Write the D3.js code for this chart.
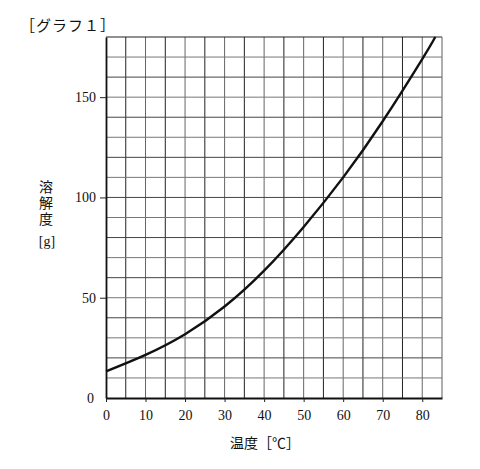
<!DOCTYPE html>
<html>
<head>
<meta charset="utf-8">
<script src="https://cdn.jsdelivr.net/npm/d3@7"></script>
<style>
  body { margin: 0; background: #fff; }
  svg { display: block; }
</style>
</head>
<body>
<div id="chart-area"></div>
<script>
// solubility curve (temperature °C, solubility g)
var temps = [0, 10, 20, 30, 40, 50, 60, 70, 80, 83.3];
var solub = [13.3, 21.5, 31.8, 45.6, 63.5, 85.3, 110, 138, 169, 180];
var xTicks = [0, 10, 20, 30, 40, 50, 60, 70, 80];
var yTicks = [0, 50, 100, 150];

var W = 480, H = 469;
var pLeft = 106, pRight = 442, pTop = 37, pBottom = 398;

var svg = d3.select("#chart-area").append("svg")
  .attr("width", W).attr("height", H);

var x = d3.scaleLinear().domain([0, 85]).range([pLeft, pRight]);
var y = d3.scaleLinear().domain([0, 180]).range([pBottom, pTop]);

var serif = "'Liberation Serif', 'DejaVu Serif', serif";
var jp = "'Noto Sans CJK JP', sans-serif";

// grid
var g = svg.append("g");
g.selectAll("line.v").data(d3.range(5, 85, 5)).enter().append("line")
  .attr("x1", d => x(d)).attr("x2", d => x(d))
  .attr("y1", pTop).attr("y2", pBottom)
  .attr("stroke", (d, i) => i % 2 ? "#666" : "#222")
  .attr("stroke-width", 1);
g.selectAll("line.h").data(d3.range(10, 180, 10)).enter().append("line")
  .attr("x1", pLeft).attr("x2", pRight)
  .attr("y1", d => y(d)).attr("y2", d => y(d))
  .attr("stroke", (d, i) => i % 2 ? "#444" : "#777")
  .attr("stroke-width", 1);

// frame
svg.append("line").attr("x1", pLeft).attr("x2", pRight).attr("y1", pTop).attr("y2", pTop)
  .attr("stroke", "#222").attr("stroke-width", 1.2);
svg.append("line").attr("x1", pRight).attr("x2", pRight).attr("y1", pTop).attr("y2", pBottom)
  .attr("stroke", "#777").attr("stroke-width", 1.2);

// axes
var xAxis = svg.append("g").attr("transform", "translate(0," + pBottom + ")")
  .call(d3.axisBottom(x).tickValues(xTicks).tickSize(4).tickSizeOuter(0).tickPadding(8));
var yAxis = svg.append("g").attr("transform", "translate(" + pLeft + ",0)")
  .call(d3.axisLeft(y).tickValues(yTicks).tickSize(6).tickSizeOuter(0).tickPadding(4));
[xAxis, yAxis].forEach(function (a) {
  a.select(".domain").attr("stroke", "#111").attr("stroke-width", 1.8);
  a.selectAll(".tick line").attr("stroke", "#222");
  a.selectAll(".tick text").attr("font-family", serif).attr("font-size", 14).attr("fill", "#111");
});
yAxis.selectAll(".tick").filter(d => d === 0).select("line").remove();
yAxis.selectAll(".tick").filter(d => d === 0).select("text").attr("x", -12);

// curve
var pts = temps.map((t, i) => [t, solub[i]]);
svg.append("path").datum(pts)
  .attr("d", d3.line().x(d => x(d[0])).y(d => y(d[1])).curve(d3.curveNatural))
  .attr("fill", "none").attr("stroke", "#111").attr("stroke-width", 2.4);

// titles
svg.append("text").attr("x", 20).attr("y", 31)
  .attr("font-family", jp).attr("font-size", 15).attr("fill", "#111")
  .attr("letter-spacing", 1)
  .text("［グラフ１］");

svg.append("text").attr("x", 265).attr("y", 448).attr("text-anchor", "middle")
  .attr("font-family", jp).attr("font-size", 14).attr("fill", "#111")
  .text("温度［℃］");

// vertical y-axis title
svg.append("text").attr("x", 46).attr("y", 204).attr("text-anchor", "middle")
  .style("writing-mode", "vertical-rl")
  .attr("letter-spacing", 2)
  .attr("font-family", jp).attr("font-size", 14).attr("fill", "#111")
  .text("溶解度");
svg.append("text").attr("x", 47).attr("y", 246).attr("text-anchor", "middle")
  .attr("font-family", serif).attr("font-size", 14).attr("fill", "#111")
  .text("[g]");
</script>
</body>
</html>
